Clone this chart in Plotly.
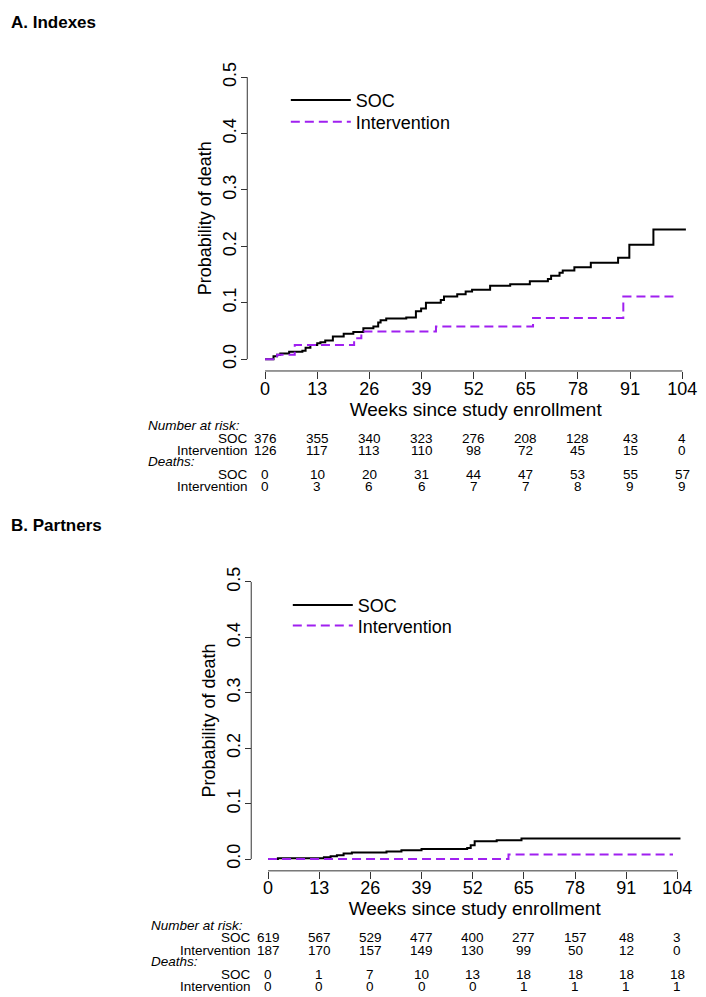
import plotly.graph_objects as go

W, H = 706, 997
OFF = 8  # default page margin around the plot div

# ---------------- data ----------------
weeks_ticks = [0, 13, 26, 39, 52, 65, 78, 91, 104]
prob_ticks = [0.0, 0.1, 0.2, 0.3, 0.4, 0.5]

# Panel A (Indexes)
a_soc_t = [0, 2.1, 3.0, 3.8, 6.0, 9.3, 10.1, 11.3, 13.0, 13.8, 15.0, 16.9, 19.6, 22.0, 24.5,
           27.0, 28.2, 28.8, 30.2, 35.2, 37.6, 38.9, 40.1, 43.8, 44.6, 47.9, 50.0, 51.6, 56.1,
           61.1, 66.0, 70.5, 71.3, 73.4, 74.2, 77.1, 81.2, 88.0, 90.8, 96.8, 104.9]
a_soc_p = [0, 0.005, 0.008, 0.010, 0.013, 0.015, 0.020, 0.025, 0.028, 0.030, 0.033, 0.040,
           0.045, 0.048, 0.055, 0.058, 0.065, 0.069, 0.072, 0.074, 0.085, 0.090, 0.100, 0.105,
           0.111, 0.115, 0.120, 0.123, 0.130, 0.133, 0.138, 0.142, 0.148, 0.153, 0.157, 0.163,
           0.171, 0.180, 0.203, 0.230, 0.230]
a_int_t = [0, 3.0, 7.4, 22.2, 24.0, 42.6, 66.8, 89.3, 101.8]
a_int_p = [0, 0.008, 0.025, 0.037, 0.049, 0.058, 0.073, 0.111, 0.111]

a_risk_soc = [376, 355, 340, 323, 276, 208, 128, 43, 4]
a_risk_int = [126, 117, 113, 110, 98, 72, 45, 15, 0]
a_death_soc = [0, 10, 20, 31, 44, 47, 53, 55, 57]
a_death_int = [0, 3, 6, 6, 7, 7, 8, 9, 9]

# Panel B (Partners)
b_soc_t = [0, 2.5, 14.2, 15.9, 17.5, 19.2, 21.3, 30.1, 33.9, 39.0, 50.6, 51.5, 52.5, 58.1,
           64.4, 104.8]
b_soc_p = [0, 0.0016, 0.0033, 0.005, 0.0067, 0.0100, 0.0118, 0.0135, 0.0160, 0.0180, 0.0200,
           0.0250, 0.0320, 0.0340, 0.0370, 0.0370]
b_int_t = [0, 61.1, 102.9]
b_int_p = [0, 0.008, 0.008]

b_risk_soc = [619, 567, 529, 477, 400, 277, 157, 48, 3]
b_risk_int = [187, 170, 157, 149, 130, 99, 50, 12, 0]
b_death_soc = [0, 1, 7, 10, 13, 18, 18, 18, 18]
b_death_int = [0, 0, 0, 0, 0, 1, 1, 1, 1]

series_names = ["SOC", "Intervention"]
panel_titles = ["A. Indexes", "B. Partners"]

# ---------------- style ----------------
FONT = "Liberation Sans, Arial, Helvetica, sans-serif"
SOC_COLOR = "#000000"
INT_COLOR = "#A020F0"
AX_COLOR = "#333333"


def px_x(px):
    return (px - OFF) / W


def px_y(py):
    return 1 - (py - OFF) / H


fig = go.Figure()

panels = [
    dict(xa="x", ya="y", x0=267, x104=689, y0=354, y5=68, xline=366, yline=249,
         soc=(a_soc_t, a_soc_p), itv=(a_int_t, a_int_p),
         table=(a_risk_soc, a_risk_int, a_death_soc, a_death_int),
         title_y=13, legends=("legend", "legend2"), leg_x=288, leg_cy=(91, 113)),
    dict(xa="x2", ya="y2", x0=270, x104=684, y0=861, y5=580, xline=873, yline=253,
         soc=(b_soc_t, b_soc_p), itv=(b_int_t, b_int_p),
         table=(b_risk_soc, b_risk_int, b_death_soc, b_death_int),
         title_y=523, legends=("legend3", "legend4"), leg_x=290, leg_cy=(603, 624)),
]

shapes = []
annotations = []
layout_extra = {}

for i, p in enumerate(panels):
    xname = "xaxis" if i == 0 else "xaxis2"
    yname = "yaxis" if i == 0 else "yaxis2"
    ppw = (p["x104"] - p["x0"]) / 104.0
    ppu = (p["y0"] - p["y5"]) / 0.5
    xr = [-1, 106]
    yr = [-0.01, 0.51]
    xdom = [px_x(p["x0"] + xr[0] * ppw), px_x(p["x0"] + xr[1] * ppw)]
    ydom = [px_y(p["y0"] - yr[0] * ppu), px_y(p["y0"] - yr[1] * ppu)]

    layout_extra[xname] = dict(
        domain=xdom, range=xr, anchor="free", position=px_y(p["xline"]),
        showline=False, showgrid=False, zeroline=False,
        tickmode="array", tickvals=weeks_ticks, ticktext=[str(v) for v in weeks_ticks],
        ticks="outside", ticklen=7, tickwidth=1, tickcolor=AX_COLOR,
        ticklabelstandoff=-6,
        tickfont=dict(family=FONT, size=18, color="#000"),
        title=dict(text="Weeks since study enrollment", font=dict(family=FONT, size=19, color="#000"),
                   standoff=2),
    )
    layout_extra[yname] = dict(
        domain=ydom, range=yr, anchor="free", position=px_x(p["yline"]),
        showline=False, showgrid=False, zeroline=False,
        tickmode="array", tickvals=prob_ticks, ticktext=["%.1f" % v for v in prob_ticks],
        ticks="outside", ticklen=6, tickwidth=1, tickcolor=AX_COLOR, tickangle=-90,
        ticklabelstandoff=-2,
        tickfont=dict(family=FONT, size=18, color="#000"),
        title=dict(text="Probability of death", font=dict(family=FONT, size=18, color="#000"),
                   standoff=2),
    )

    # axis lines (R-style detached axes spanning the tick range only)
    shapes.append(dict(type="line", xref=p["xa"], yref="paper", x0=0, x1=104,
                       y0=px_y(p["xline"]), y1=px_y(p["xline"]),
                       line=dict(color=AX_COLOR, width=1)))
    shapes.append(dict(type="line", xref="paper", yref=p["ya"], x0=px_x(p["yline"]),
                       x1=px_x(p["yline"]), y0=0, y1=0.5,
                       line=dict(color=AX_COLOR, width=1)))

    fig.add_trace(go.Scatter(
        x=p["soc"][0], y=p["soc"][1], mode="lines", line_shape="hv",
        line=dict(color=SOC_COLOR, width=2), name=series_names[0], showlegend=True,
        xaxis=p["xa"], yaxis=p["ya"], legend=p["legends"][0], hoverinfo="skip"))
    fig.add_trace(go.Scatter(
        x=p["itv"][0], y=p["itv"][1], mode="lines", line_shape="hv",
        line=dict(color=INT_COLOR, width=2, dash="9px,5px"), name=series_names[1],
        showlegend=True,
        xaxis=p["xa"], yaxis=p["ya"], legend=p["legends"][1], hoverinfo="skip"))

    # one legend box per entry so that the entries sit at the reference spacing
    for lg, cy in zip(p["legends"], p["leg_cy"]):
        layout_extra[lg] = dict(
            x=px_x(p["leg_x"]), y=px_y(cy - 18.2), xanchor="left", yanchor="top",
            font=dict(family=FONT, size=18, color="#000"), bgcolor="rgba(0,0,0,0)",
            itemwidth=60, tracegroupgap=0, visible=True)

    # panel title
    annotations.append(dict(text="<b>%s</b>" % panel_titles[i], xref="paper", yref="paper",
                            x=0, y=px_y(p["title_y"]), xanchor="left", yanchor="middle",
                            showarrow=False, font=dict(family=FONT, size=17, color="#000")))

    # risk table
    base = p["xline"]
    row_off = [55, 68, 81, 92, 105, 117]
    row_lbl = ["<i>Number at risk:</i>", "SOC", "Intervention", "<i>Deaths:</i>", "SOC", "Intervention"]
    tfont = dict(family=FONT, size=13.5, color="#000")
    for r, (lbl, off) in enumerate(zip(row_lbl, row_off)):
        yy = px_y(base + off)
        if lbl.startswith("<i>"):
            annotations.append(dict(text=lbl, xref="paper", yref="paper", x=px_x(p["x0"] - 120),
                                    y=yy, xanchor="left", yanchor="middle", showarrow=False,
                                    font=tfont))
        else:
            annotations.append(dict(text=lbl, xref="paper", yref="paper", x=px_x(p["x0"] - 15),
                                    y=yy, xanchor="right", yanchor="middle", showarrow=False,
                                    font=tfont))
    vals_rows = {1: p["table"][0], 2: p["table"][1], 4: p["table"][2], 5: p["table"][3]}
    for r, vals in vals_rows.items():
        yy = px_y(base + row_off[r])
        for wk, v in zip(weeks_ticks, vals):
            annotations.append(dict(text=str(v), xref=p["xa"], yref="paper", x=wk, y=yy,
                                    xanchor="center", yanchor="middle", showarrow=False,
                                    font=tfont))

fig.update_layout(
    width=W, height=H, margin=dict(l=0, r=0, t=0, b=0),
    paper_bgcolor="white", plot_bgcolor="white", showlegend=True,
    shapes=shapes, annotations=annotations,
    **layout_extra,
)

fig.write_html("out.html")
